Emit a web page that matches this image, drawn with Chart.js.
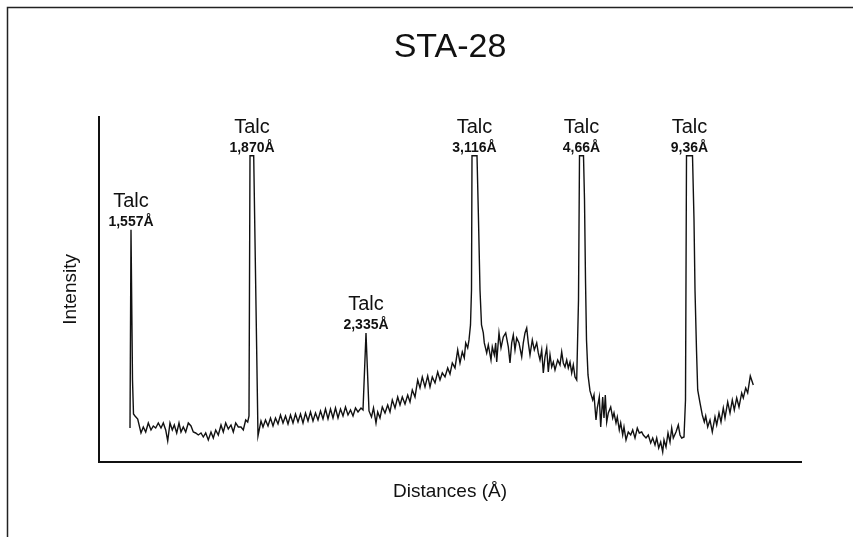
<!DOCTYPE html>
<html>
<head>
<meta charset="utf-8">
<title>STA-28</title>
<script src="https://cdn.jsdelivr.net/npm/chart.js@4/dist/chart.umd.min.js"></script>
<style>
  html, body { margin: 0; padding: 0; background: #fff; }
  #wrap { width: 853px; height: 537px; }
</style>
</head>
<body>
<div id="wrap"><canvas id="xrdChart" width="853" height="537"></canvas></div>
<script>
// diffractogram trace, position along the scan vs. counts
const distance = [
  31, 32, 33.5, 34.5, 36, 38.7, 42, 44.3, 46.7, 49.3, 52, 54.3, 56.7, 59.3, 62, 64.3, 66.7, 68.7,
  71, 73.3, 75.3, 77.7, 80, 82, 84.3, 86.7, 89.3, 92, 94.3, 96.7, 99.3, 102, 104.3, 106.7, 109.3,
  112, 114.3, 116.7, 119.3, 122, 124.3, 126.7, 129.3, 132, 134.3, 136.7, 139.3, 142, 144.3, 146.7,
  148.7, 150, 151, 154.7, 159,
  162, 164, 166.5, 169, 171.5, 174, 176.5, 179, 181.5, 184, 186.5, 189, 191.5, 194, 196.5, 199,
  201.5, 204, 206.5, 209, 211.5, 214, 216.5, 219, 221.5, 224, 226.5, 229, 231.5, 234, 236.5, 239,
  241.5, 244, 246.5, 249, 251.5, 254, 256.5, 259, 262, 264, 267, 270, 272.5, 274.5, 277,
  278.7, 281, 283.3, 286, 288.7, 291, 293.3, 296, 298.7, 301, 303.3, 306, 308.7, 311, 313.3, 316,
  318.7, 321, 323.3, 326, 328.7, 331, 333.3, 336, 338.7, 341, 343.3, 346, 348.7, 351, 353.3, 356,
  358.7, 361, 363.3, 365.3, 366.7, 368.7, 370, 371.5, 372.5, 373, 378, 379.5, 381, 382.5,
  384.3, 385.3, 387.7, 389.3, 392, 393.3, 395.3, 396.7, 397.7, 400, 402, 404.3, 406.7, 409.3, 411,
  412.7, 414.3, 416, 417.7, 420, 422.7, 424.3, 426, 427.7, 429.3, 431, 433.3, 435.3, 437.7, 439.3,
  441, 442.7, 444.3, 446, 447.7, 449.3, 451, 452.7, 454.3, 456, 458.7, 461, 462.7, 464.3, 466,
  467.7, 469.3, 471, 472.7, 474.3, 476, 477.7,
  479.5, 480.5, 484.5, 485.5, 486.5, 487.5, 489, 491,
  493.7, 495, 497, 498.3, 500.3, 501.7, 503.7, 505, 506.3, 507.7, 509.3, 511.7, 513.7, 515, 517,
  518.3, 520.3, 521.7, 523.7, 525, 527, 529.3, 531.7, 533.7, 536, 538.3, 540.3, 542.7, 544.3, 547,
  549.3, 551.7, 553.7, 556, 557.7, 559.7, 561.7, 563.7, 565, 567, 569, 571, 572.7, 574.3, 577,
  579.3, 581, 582.7, 585, 586.5, 587.5, 593.5, 595, 596, 597.5, 598.7,
  601, 603.3, 605.3, 606.7, 608.7, 611, 613.3, 616, 617.7, 620, 622, 624.3, 626, 628.7, 631, 633.3,
  635.3, 637.7, 640, 642.7, 644.3, 646.7, 648.7, 651.3, 654.3
];
const intensity = [
  34, 232, 82, 48, 46, 43, 29, 35, 30, 39, 32, 36, 34, 39, 34, 39, 32, 21,
  39, 32, 37, 29, 39, 30, 35, 30, 39, 36, 30, 29, 27, 29, 25, 29, 22,
  30, 24, 32, 27, 37, 30, 39, 33, 37, 30, 39, 35, 35, 32, 42,
  40, 46, 306, 306, 26,
  41, 35, 42, 36, 44, 36, 44, 38, 47, 39, 46, 38, 47, 39, 48, 40,
  48, 39, 49, 41, 50, 41, 49, 42, 51, 43, 53, 43, 53, 44, 54, 44,
  53, 46, 55, 47, 52, 46, 54, 50, 54, 52, 129, 51, 45, 54, 39,
  50, 44, 55, 49, 57, 50, 62, 54, 65, 57, 65, 58, 67, 60, 72, 65,
  82, 74, 85, 75, 86, 75, 85, 79, 90, 82, 89, 85, 94, 88, 99, 94,
  112, 99, 110, 104, 119, 114, 122, 137, 172, 306, 306, 242, 172, 137,
  129, 119, 109, 117, 102, 115, 107, 119, 100, 129, 114, 125, 129, 115, 99,
  119, 127, 112, 124, 119, 105, 119, 129, 134, 119, 107, 122, 112, 119, 109,
  102, 112, 89, 105, 114, 90, 107, 95, 100, 92, 102, 97, 110, 99, 95,
  102, 94, 100, 89, 97, 85, 82,
  162, 306, 306, 262, 182, 122, 87, 71,
  62, 67, 42, 54, 65, 35, 65, 44, 67, 40, 49, 55, 44, 49, 39,
  45, 32, 39, 27, 35, 22, 30, 27, 32, 24, 34, 29, 30, 27, 24,
  27, 19, 24, 17, 24, 14, 20, 10, 22, 15, 29, 20, 34, 24, 30,
  37, 27, 24, 25, 62, 306, 306, 242, 172, 112, 72,
  59, 47, 40, 46, 35, 42, 30, 45, 37, 49, 40, 54, 44, 60, 49, 62,
  52, 64, 55, 69, 64, 74, 69, 86, 77
];

// identified reflections
const peakMineral = ['Talc', 'Talc', 'Talc', 'Talc', 'Talc', 'Talc'];
const peakSpacing = ['1,557Å', '1,870Å', '2,335Å', '3,116Å', '4,66Å', '9,36Å'];
const peakPosition = [32, 153, 267, 375.5, 482.5, 590.5];

const ink = '#111';
const fontFamily = "'Liberation Sans', Arial, Helvetica, sans-serif";

const points = distance.map((d, i) => ({ x: d, y: intensity[i] }));

// sheet frame (left and top edge)
const framePlugin = {
  id: 'frame',
  beforeDraw(chart) {
    const c = chart.ctx;
    c.save();
    c.fillStyle = '#fff';
    c.fillRect(0, 0, chart.width, chart.height);
    c.strokeStyle = '#222';
    c.lineWidth = 1.5;
    c.beginPath();
    c.moveTo(7.5, chart.height);
    c.lineTo(7.5, 7.5);
    c.lineTo(chart.width, 7.5);
    c.stroke();
    c.restore();
  }
};

// mineral name + d-spacing above each peak
const peakLabels = {
  id: 'peakLabels',
  afterDatasetsDraw(chart) {
    const c = chart.ctx;
    const xs = chart.scales.x, ys = chart.scales.y;
    c.save();
    c.fillStyle = ink;
    c.textAlign = 'center';
    c.textBaseline = 'alphabetic';
    peakPosition.forEach((pos, i) => {
      let top = 0;
      points.forEach(p => { if (Math.abs(p.x - pos) <= 4 && p.y > top) top = p.y; });
      const px = xs.getPixelForValue(pos);
      const py = ys.getPixelForValue(top);
      c.font = `20px ${fontFamily}`;
      c.fillText(peakMineral[i], px, py - 23);
      c.font = `bold 14px ${fontFamily}`;
      c.fillText(peakSpacing[i], px, py - 4);
    });
    c.restore();
  }
};

new Chart(document.getElementById('xrdChart'), {
  type: 'line',
  data: {
    datasets: [{
      data: points,
      borderColor: ink,
      borderWidth: 1.4,
      pointRadius: 0,
      tension: 0,
      fill: false
    }]
  },
  options: {
    responsive: false,
    animation: false,
    layout: { padding: { left: 0, right: 52, top: 0, bottom: 0 } },
    plugins: {
      legend: { display: false },
      tooltip: { enabled: false },
      title: {
        display: true,
        fullSize: false,
        text: 'STA-28',
        color: ink,
        font: { family: fontFamily, size: 34, weight: 'normal' },
        padding: { top: 27, bottom: 49 }
      }
    },
    scales: {
      x: {
        type: 'linear',
        min: 0,
        max: 702,
        ticks: { display: false },
        grid: { display: false },
        border: { display: true, color: ink, width: 2 },
        title: {
          display: true,
          text: 'Distances (Å)',
          color: ink,
          font: { family: fontFamily, size: 19 },
          padding: { top: 0, bottom: 34 }
        },
        afterFit(scale) { scale.height = 75; }
      },
      y: {
        min: 0,
        max: 345,
        ticks: { display: false },
        grid: { display: false },
        border: { display: true, color: ink, width: 2 },
        title: {
          display: true,
          text: 'Intensity',
          color: ink,
          font: { family: fontFamily, size: 19 },
          padding: { top: 59, bottom: 0 }
        },
        afterFit(scale) { scale.width = 99; }
      }
    }
  },
  plugins: [framePlugin, peakLabels]
});
</script>
</body>
</html>
